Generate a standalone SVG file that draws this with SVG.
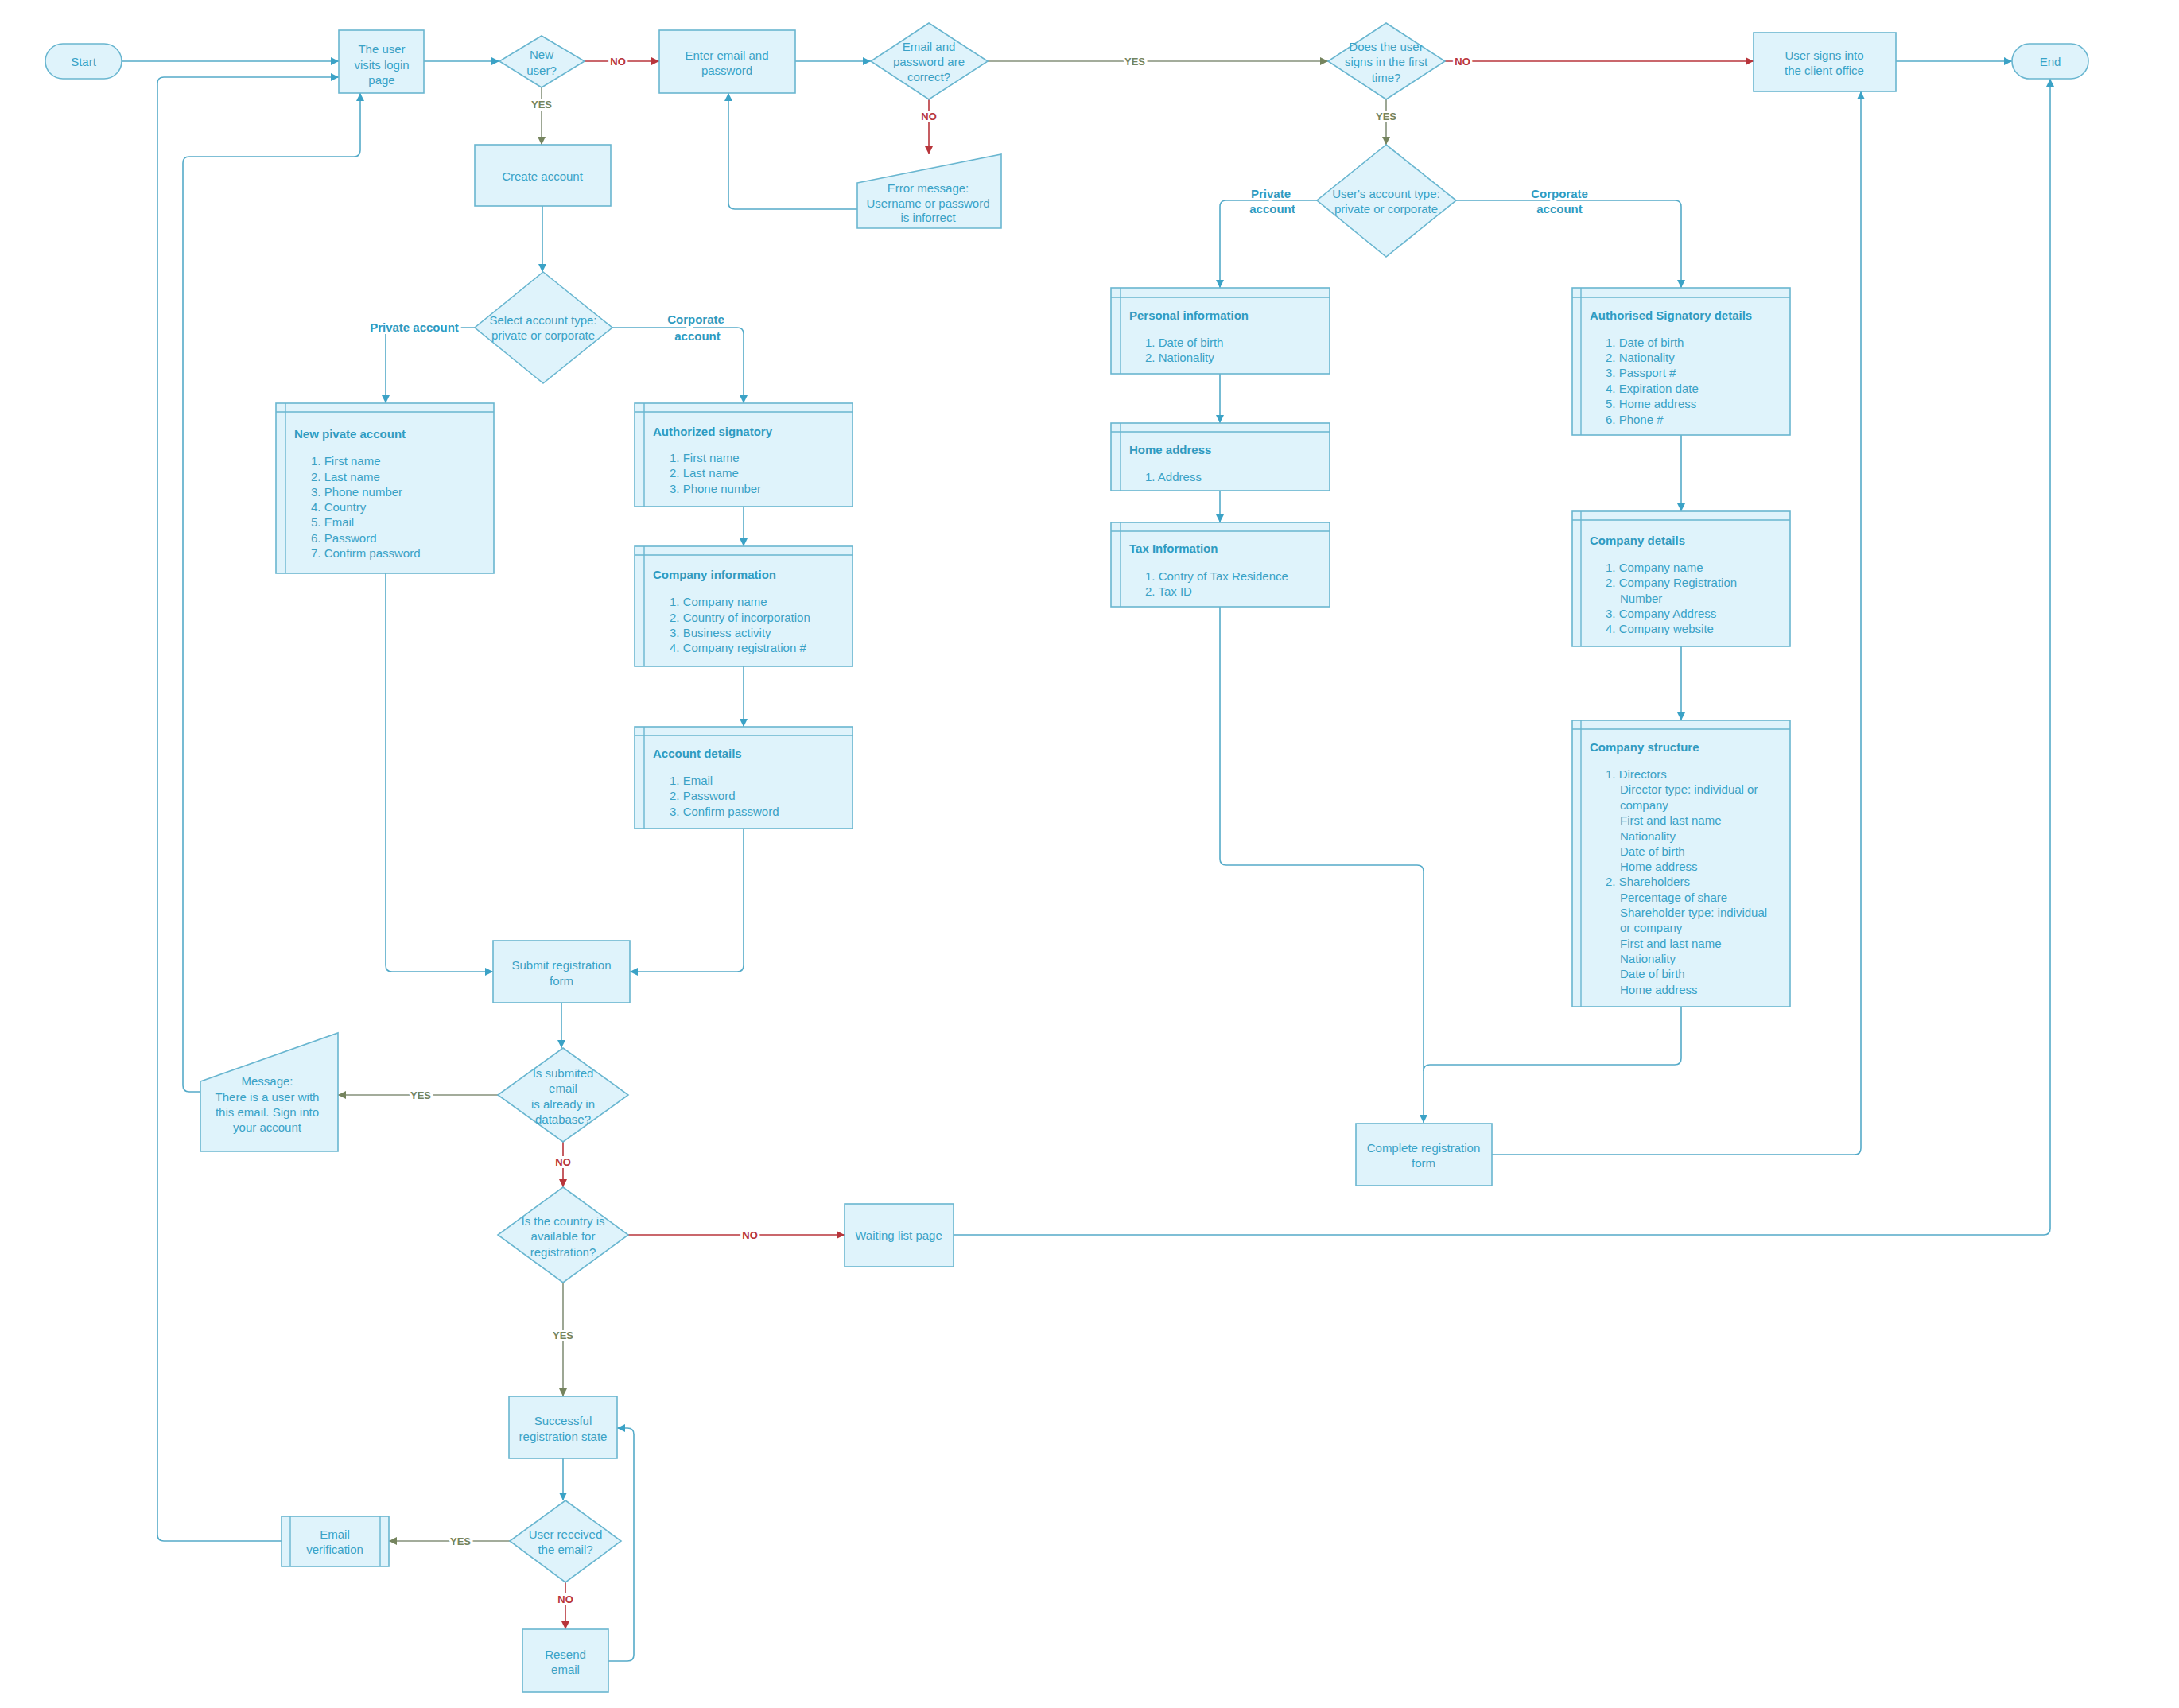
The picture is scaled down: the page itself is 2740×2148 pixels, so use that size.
<svg xmlns="http://www.w3.org/2000/svg" width="2740" height="2148" viewBox="0 0 2740 2148">
<defs>
<style>
text{font-family:"Liberation Sans",Arial,sans-serif;font-size:15px;fill:#3aa2c6;dominant-baseline:central}
.c{text-anchor:middle}
.t{font-weight:bold;fill:#2f9bc1}
.shape{fill:#dff3fb;stroke:#69b6d0;stroke-width:1.6}
.inner{fill:none;stroke:#69b6d0;stroke-width:1.4}
.ln{fill:none;stroke:#55abc9;stroke-width:1.6}
.yes{fill:none;stroke:#85917a;stroke-width:1.6}
.no{fill:none;stroke:#b8353b;stroke-width:1.6}
.lbl{font-weight:bold;font-size:13px;text-anchor:middle;stroke:#fff;stroke-width:6;paint-order:stroke}
.ly{fill:#75845e}
.lno{fill:#b8353b}
.lb{font-size:15px;fill:#2f9bc1}
</style>
<marker id="ab" viewBox="0 0 10 10" refX="10" refY="5" markerWidth="10" markerHeight="10" markerUnits="userSpaceOnUse" orient="auto"><path d="M0,0 L10,5 L0,10 z" fill="#3ba2c6"/></marker>
<marker id="ay" viewBox="0 0 10 10" refX="10" refY="5" markerWidth="10" markerHeight="10" markerUnits="userSpaceOnUse" orient="auto"><path d="M0,0 L10,5 L0,10 z" fill="#75845e"/></marker>
<marker id="ar" viewBox="0 0 10 10" refX="10" refY="5" markerWidth="10" markerHeight="10" markerUnits="userSpaceOnUse" orient="auto"><path d="M0,0 L10,5 L0,10 z" fill="#b8353b"/></marker>
</defs>
<rect width="2740" height="2148" fill="#ffffff"/>

<g id="connectors">
<path class="ln" d="M153,77 H426" marker-end="url(#ab)"/>
<path class="ln" d="M533,77 H628" marker-end="url(#ab)"/>
<path class="ln" d="M1000,77 H1095" marker-end="url(#ab)"/>
<path class="ln" d="M1078,263 H924 Q916,263 916,255 V117" marker-end="url(#ab)"/>
<path class="ln" d="M682,259 V342" marker-end="url(#ab)"/>
<path class="ln" d="M597,412 H493 Q485,412 485,420 V507" marker-end="url(#ab)"/>
<path class="ln" d="M770,412 H927 Q935,412 935,420 V507" marker-end="url(#ab)"/>
<path class="ln" d="M935,637 V687" marker-end="url(#ab)"/>
<path class="ln" d="M935,838 V914" marker-end="url(#ab)"/>
<path class="ln" d="M485,721 V1214 Q485,1222 493,1222 H620" marker-end="url(#ab)"/>
<path class="ln" d="M935,1042 V1214 Q935,1222 927,1222 H792" marker-end="url(#ab)"/>
<path class="ln" d="M706,1261 V1318" marker-end="url(#ab)"/>
<path class="ln" d="M252,1373 H238 Q230,1373 230,1365 V205 Q230,197 238,197 H445 Q453,197 453,189 V117" marker-end="url(#ab)"/>
<path class="ln" d="M1199,1553 H2570 Q2578,1553 2578,1545 V99" marker-end="url(#ab)"/>
<path class="ln" d="M708,1834 V1887" marker-end="url(#ab)"/>
<path class="ln" d="M354,1938 H206 Q198,1938 198,1930 V105 Q198,97 206,97 H426" marker-end="url(#ab)"/>
<path class="ln" d="M765,2089 H789 Q797,2089 797,2081 V1804 Q797,1796 789,1796 H776" marker-end="url(#ab)"/>
<path class="ln" d="M2384,77 H2530" marker-end="url(#ab)"/>
<path class="ln" d="M1656,252 H1542 Q1534,252 1534,260 V362" marker-end="url(#ab)"/>
<path class="ln" d="M1831,252 H2106 Q2114,252 2114,260 V362" marker-end="url(#ab)"/>
<path class="ln" d="M1534,470 V532" marker-end="url(#ab)"/>
<path class="ln" d="M1534,617 V657" marker-end="url(#ab)"/>
<path class="ln" d="M1534,763 V1080 Q1534,1088 1542,1088 H1782 Q1790,1088 1790,1096 V1412" marker-end="url(#ab)"/>
<path class="ln" d="M2114,1266 V1331 Q2114,1339 2106,1339 H1798 Q1790,1339 1790,1347"/>
<path class="ln" d="M2114,547 V643" marker-end="url(#ab)"/>
<path class="ln" d="M2114,813 V906" marker-end="url(#ab)"/>
<path class="ln" d="M1876,1452 H2332 Q2340,1452 2340,1444 V115" marker-end="url(#ab)"/>

<path class="yes" d="M681,110 V182" marker-end="url(#ay)"/>
<path class="yes" d="M1242,77 H1670" marker-end="url(#ay)"/>
<path class="yes" d="M1743,125 V182" marker-end="url(#ay)"/>
<path class="yes" d="M626,1377 H425" marker-end="url(#ay)"/>
<path class="yes" d="M708,1613 V1756" marker-end="url(#ay)"/>
<path class="yes" d="M641,1938 H489" marker-end="url(#ay)"/>

<path class="no" d="M735,77 H829" marker-end="url(#ar)"/>
<path class="no" d="M1168,125 V194" marker-end="url(#ar)"/>
<path class="no" d="M1817,77 H2205" marker-end="url(#ar)"/>
<path class="no" d="M708,1436 V1493" marker-end="url(#ar)"/>
<path class="no" d="M790,1553 H1062" marker-end="url(#ar)"/>
<path class="no" d="M711,1990 V2049" marker-end="url(#ar)"/>

<text class="lbl ly" x="681" y="131">YES</text>
<text class="lbl ly" x="1427" y="77">YES</text>
<text class="lbl ly" x="1743" y="146">YES</text>
<text class="lbl ly" x="529" y="1377">YES</text>
<text class="lbl ly" x="708" y="1679">YES</text>
<text class="lbl ly" x="579" y="1938">YES</text>
<text class="lbl lno" x="777" y="77">NO</text>
<text class="lbl lno" x="1168" y="146">NO</text>
<text class="lbl lno" x="1839" y="77">NO</text>
<text class="lbl lno" x="708" y="1461">NO</text>
<text class="lbl lno" x="943" y="1553">NO</text>
<text class="lbl lno" x="711" y="2011">NO</text>
<text class="lbl lb" x="521" y="411">Private account</text>
<text class="lbl lb" x="875" y="401">Corporate</text>
<text class="lbl lb" x="877" y="422">account</text>
<text class="lbl lb" x="1598" y="243">Private</text>
<text class="lbl lb" x="1600" y="262">account</text>
<text class="lbl lb" x="1961" y="243">Corporate</text>
<text class="lbl lb" x="1961" y="262">account</text>
</g>

<g id="start"><rect class="shape" x="57" y="55" width="96" height="44" rx="22"/><text class="c" x="105" y="77">Start</text></g>
<g id="login"><rect class="shape" x="426" y="38" width="107" height="79"/><text class="c" x="480" y="61">The user</text><text class="c" x="480" y="81">visits login</text><text class="c" x="480" y="100">page</text></g>
<g id="newuser"><polygon class="shape" points="681,45 735,77 681,110 628,77"/><text class="c" x="681" y="68">New</text><text class="c" x="681" y="88">user?</text></g>
<g id="enteremail"><rect class="shape" x="829" y="38" width="171" height="79"/><text class="c" x="914" y="69">Enter email and</text><text class="c" x="914" y="88">password</text></g>
<g id="emailcorrect"><polygon class="shape" points="1168,29 1242,77 1168,125 1095,77"/><text class="c" x="1168" y="58">Email and</text><text class="c" x="1168" y="77">password are</text><text class="c" x="1168" y="96">correct?</text></g>
<g id="errormsg"><polygon class="shape" points="1078,230 1259,194 1259,287 1078,287"/><text class="c" x="1167" y="236">Error message:</text><text class="c" x="1167" y="255">Username or password</text><text class="c" x="1167" y="273">is inforrect</text></g>
<g id="createaccount"><rect class="shape" x="597" y="182" width="171" height="77"/><text class="c" x="682" y="221">Create account</text></g>
<g id="firsttime"><polygon class="shape" points="1743,29 1817,77 1743,125 1670,77"/><text class="c" x="1743" y="58">Does the user</text><text class="c" x="1743" y="77">signs in the first</text><text class="c" x="1743" y="97">time?</text></g>
<g id="signsin"><rect class="shape" x="2205" y="41" width="179" height="74"/><text class="c" x="2294" y="69">User signs into</text><text class="c" x="2294" y="88">the client office</text></g>
<g id="end"><rect class="shape" x="2530" y="55" width="96" height="44" rx="22"/><text class="c" x="2578" y="77">End</text></g>
<g id="accounttype"><polygon class="shape" points="1743,182 1831,252 1743,323 1656,252"/><text class="c" x="1743" y="243">User's account type:</text><text class="c" x="1743" y="262">private or corporate</text></g>
<g id="selecttype"><polygon class="shape" points="683,342 770,412 683,482 597,412"/><text class="c" x="683" y="402">Select account type:</text><text class="c" x="683" y="421">private or corporate</text></g>

<g id="newprivate"><rect class="shape" x="347" y="507" width="274" height="214"/><path class="inner" d="M347,518 H621 M359,507 V721"/>
<text class="t" x="370" y="545">New pivate account</text>
<text x="391" y="579">1.  First name</text><text x="391" y="599">2.  Last name</text><text x="391" y="618">3.  Phone number</text><text x="391" y="637">4.  Country</text><text x="391" y="656">5.  Email</text><text x="391" y="676">6.  Password</text><text x="391" y="695">7.  Confirm password</text></g>

<g id="authsignatory"><rect class="shape" x="798" y="507" width="274" height="130"/><path class="inner" d="M798,518 H1072 M810,507 V637"/>
<text class="t" x="821" y="542">Authorized signatory</text>
<text x="842" y="575">1.  First name</text><text x="842" y="594">2.  Last name</text><text x="842" y="614">3.  Phone number</text></g>

<g id="companyinfo"><rect class="shape" x="798" y="687" width="274" height="151"/><path class="inner" d="M798,698 H1072 M810,687 V838"/>
<text class="t" x="821" y="722">Company information</text>
<text x="842" y="756">1.  Company name</text><text x="842" y="776">2.  Country of incorporation</text><text x="842" y="795">3.  Business activity</text><text x="842" y="814">4.  Company registration #</text></g>

<g id="accountdetails"><rect class="shape" x="798" y="914" width="274" height="128"/><path class="inner" d="M798,925 H1072 M810,914 V1042"/>
<text class="t" x="821" y="947">Account details</text>
<text x="842" y="981">1.  Email</text><text x="842" y="1000">2.  Password</text><text x="842" y="1020">3.  Confirm password</text></g>

<g id="personalinfo"><rect class="shape" x="1397" y="362" width="275" height="108"/><path class="inner" d="M1397,374 H1672 M1409,362 V470"/>
<text class="t" x="1420" y="396">Personal information</text>
<text x="1440" y="430">1.  Date of birth</text><text x="1440" y="449">2.  Nationality</text></g>

<g id="homeaddress"><rect class="shape" x="1397" y="532" width="275" height="85"/><path class="inner" d="M1397,543 H1672 M1409,532 V617"/>
<text class="t" x="1420" y="565">Home address</text>
<text x="1440" y="599">1.  Address</text></g>

<g id="taxinfo"><rect class="shape" x="1397" y="657" width="275" height="106"/><path class="inner" d="M1397,668 H1672 M1409,657 V763"/>
<text class="t" x="1420" y="689">Tax Information</text>
<text x="1440" y="724">1.  Contry of Tax Residence</text><text x="1440" y="743">2.  Tax ID</text></g>

<g id="authdetails"><rect class="shape" x="1977" y="362" width="274" height="185"/><path class="inner" d="M1977,374 H2251 M1988,362 V547"/>
<text class="t" x="1999" y="396">Authorised Signatory details</text>
<text x="2019" y="430">1.  Date of birth</text><text x="2019" y="449">2.  Nationality</text><text x="2019" y="468">3.  Passport #</text><text x="2019" y="488">4.  Expiration date</text><text x="2019" y="507">5.  Home address</text><text x="2019" y="527">6.  Phone #</text></g>

<g id="companydetails"><rect class="shape" x="1977" y="643" width="274" height="170"/><path class="inner" d="M1977,654 H2251 M1988,643 V813"/>
<text class="t" x="1999" y="679">Company details</text>
<text x="2019" y="713">1.  Company name</text><text x="2019" y="732">2.  Company Registration</text><text x="2037" y="752">Number</text><text x="2019" y="771">3.  Company Address</text><text x="2019" y="790">4.  Company website</text></g>

<g id="companystructure"><rect class="shape" x="1977" y="906" width="274" height="360"/><path class="inner" d="M1977,917 H2251 M1988,906 V1266"/>
<text class="t" x="1999" y="939">Company structure</text>
<text x="2019" y="973">1.  Directors</text>
<text x="2037" y="992">Director type: individual or</text>
<text x="2037" y="1012">company</text>
<text x="2037" y="1031">First and last name</text>
<text x="2037" y="1051">Nationality</text>
<text x="2037" y="1070">Date of birth</text>
<text x="2037" y="1089">Home address</text>
<text x="2019" y="1108">2.  Shareholders</text>
<text x="2037" y="1128">Percentage of share</text>
<text x="2037" y="1147">Shareholder type: individual</text>
<text x="2037" y="1166">or company</text>
<text x="2037" y="1186">First and last name</text>
<text x="2037" y="1205">Nationality</text>
<text x="2037" y="1224">Date of birth</text>
<text x="2037" y="1244">Home address</text></g>

<g id="completeform"><rect class="shape" x="1705" y="1413" width="171" height="78"/><text class="c" x="1790" y="1443">Complete registration</text><text class="c" x="1790" y="1462">form</text></g>

<g id="submitform"><rect class="shape" x="620" y="1183" width="172" height="78"/><text class="c" x="706" y="1213">Submit registration</text><text class="c" x="706" y="1233">form</text></g>
<g id="emailexists"><polygon class="shape" points="708,1318 790,1377 708,1436 626,1377"/><text class="c" x="708" y="1349">Is submited</text><text class="c" x="708" y="1368">email</text><text class="c" x="708" y="1388">is already in</text><text class="c" x="708" y="1407">database?</text></g>
<g id="messagebox"><polygon class="shape" points="252,1360 425,1299 425,1448 252,1448"/><text class="c" x="336" y="1359">Message:</text><text class="c" x="336" y="1379">There is a user with</text><text class="c" x="336" y="1398">this email. Sign into</text><text class="c" x="336" y="1417">your account</text></g>
<g id="countryavailable"><polygon class="shape" points="708,1493 790,1553 708,1613 626,1553"/><text class="c" x="708" y="1535">Is the country is</text><text class="c" x="708" y="1554">available for</text><text class="c" x="708" y="1574">registration?</text></g>
<g id="waitinglist"><rect class="shape" x="1062" y="1514" width="137" height="79"/><text class="c" x="1130" y="1553">Waiting list page</text></g>
<g id="successful"><rect class="shape" x="640" y="1756" width="136" height="78"/><text class="c" x="708" y="1786">Successful</text><text class="c" x="708" y="1806">registration state</text></g>
<g id="receivedemail"><polygon class="shape" points="711,1887 781,1938 711,1990 641,1938"/><text class="c" x="711" y="1929">User received</text><text class="c" x="711" y="1948">the email?</text></g>
<g id="emailverification"><rect class="shape" x="354" y="1907" width="135" height="63"/><path class="inner" d="M365,1907 V1970 M478,1907 V1970"/><text class="c" x="421" y="1929">Email</text><text class="c" x="421" y="1948">verification</text></g>
<g id="resend"><rect class="shape" x="657" y="2049" width="108" height="79"/><text class="c" x="711" y="2080">Resend</text><text class="c" x="711" y="2099">email</text></g>
</svg>
